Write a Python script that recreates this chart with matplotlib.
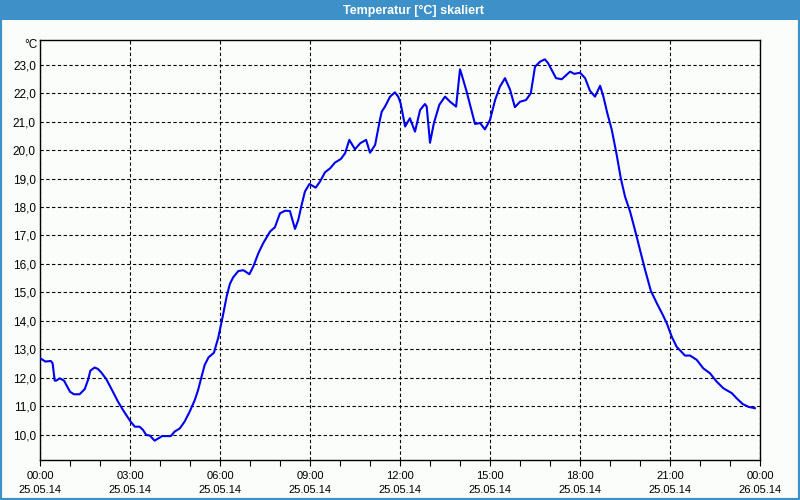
import matplotlib
matplotlib.use("Agg")
import matplotlib.pyplot as plt
from matplotlib.patches import Rectangle
from matplotlib.ticker import FixedLocator, MultipleLocator

# Messwerte (Stunden ab 25.05.14 00:00, Temperatur in °C)
stunden = [0.0, 0.18, 0.36, 0.42, 0.49, 0.54, 0.66, 0.8, 1.0, 1.13,
           1.32, 1.49, 1.6, 1.68, 1.82, 1.93, 2.04, 2.21, 2.4, 2.6,
           2.8, 3.02, 3.16, 3.32, 3.43, 3.54, 3.66, 3.82, 4.07, 4.36,
           4.49, 4.66, 4.82, 4.99, 5.16, 5.27, 5.38, 5.49, 5.62, 5.8,
           5.83, 5.94, 6.09, 6.22, 6.33, 6.44, 6.61, 6.78, 6.98, 7.11,
           7.28, 7.44, 7.67, 7.83, 8.0, 8.17, 8.33, 8.5, 8.61, 8.72,
           8.83, 8.98, 9.19, 9.33, 9.5, 9.67, 9.83, 10.03, 10.17, 10.31,
           10.5, 10.67, 10.87, 11.0, 11.17, 11.33, 11.39, 11.5, 11.67, 11.83,
           11.94, 12.02, 12.17, 12.33, 12.5, 12.67, 12.83, 12.89, 13.0, 13.13,
           13.31, 13.5, 13.67, 13.87, 14.0, 14.06, 14.22, 14.5, 14.67, 14.83,
           15.0, 15.17, 15.33, 15.5, 15.67, 15.83, 16.0, 16.2, 16.36, 16.5,
           16.67, 16.83, 16.94, 17.2, 17.39, 17.67, 17.81, 18.0, 18.17, 18.33,
           18.5, 18.67, 18.78, 18.91, 19.06, 19.22, 19.36, 19.5, 19.67, 19.83,
           20.0, 20.17, 20.36, 20.56, 20.76, 20.89, 21.06, 21.22, 21.5, 21.67,
           21.89, 22.11, 22.33, 22.56, 22.78, 23.06, 23.22, 23.42, 23.61, 23.83]

temperatur = [12.69, 12.57, 12.59, 12.51, 11.9, 11.9, 11.98, 11.9, 11.51, 11.42,
              11.42, 11.6, 11.92, 12.25, 12.36, 12.31, 12.19, 11.95, 11.57, 11.16,
              10.81, 10.46, 10.28, 10.28, 10.17, 9.99, 9.97, 9.79, 9.95, 9.95,
              10.11, 10.22, 10.46, 10.81, 11.22, 11.57, 12.02, 12.45, 12.72, 12.88,
              13.0, 13.4, 14.15, 14.85, 15.3, 15.53, 15.75, 15.78, 15.64, 15.91,
              16.38, 16.73, 17.14, 17.29, 17.78, 17.87, 17.86, 17.23, 17.55, 18.07,
              18.54, 18.81, 18.68, 18.89, 19.22, 19.36, 19.56, 19.69, 19.89, 20.36,
              20.03, 20.24, 20.36, 19.91, 20.18, 21.06, 21.35, 21.53, 21.88, 22.03,
              21.88, 21.65, 20.83, 21.12, 20.65, 21.41, 21.62, 21.53, 20.26, 20.95,
              21.59, 21.88, 21.7, 21.53, 22.84, 22.64, 22.06, 20.92, 20.95, 20.73,
              21.06, 21.76, 22.23, 22.53, 22.12, 21.51, 21.7, 21.76, 22.0, 22.93,
              23.11, 23.19, 23.05, 22.53, 22.49, 22.76, 22.68, 22.72, 22.53, 22.09,
              21.88, 22.26, 21.88, 21.3, 20.71, 19.85, 19.01, 18.37, 17.84, 17.2,
              16.49, 15.79, 15.06, 14.62, 14.21, 13.92, 13.44, 13.09, 12.78, 12.78,
              12.63, 12.33, 12.16, 11.86, 11.63, 11.46, 11.28, 11.08, 10.98, 10.93]

x_ticks = [0, 3, 6, 9, 12, 15, 18, 21, 24]
x_labels = ["00:00\n25.05.14", "03:00\n25.05.14", "06:00\n25.05.14",
            "09:00\n25.05.14", "12:00\n25.05.14", "15:00\n25.05.14",
            "18:00\n25.05.14", "21:00\n25.05.14", "00:00\n26.05.14"]
y_ticks = list(range(10, 24))

titel = "Temperatur [°C] skaliert"

blau = "#3e90c8"
hintergrund = "#fafdfa"

plt.rcParams['font.family'] = ['Liberation Sans', 'DejaVu Sans']

fig = plt.figure(figsize=(8, 5), dpi=100, facecolor=hintergrund)
ax = fig.add_axes([0.05, 0.08, 0.90, 0.84], facecolor=hintergrund)

# Titelleiste und Rahmen
fig.patches.append(Rectangle((0, 0.96), 1, 0.04, transform=fig.transFigure,
                             facecolor=blau, edgecolor="none", zorder=0))
fig.patches.append(Rectangle((0, 0), 1, 1, transform=fig.transFigure,
                             facecolor="none", edgecolor=blau, linewidth=3, zorder=0))
fig.text(0.5175, 0.979, titel, color="white", fontsize=9, fontweight="bold",
         ha="center", va="center")

ax.plot(stunden, temperatur, color="#0000ee", linewidth=1.5, zorder=3)

ax.set_xlim(0, 24)
ax.set_ylim(9.11, 23.87)

ax.xaxis.set_major_locator(FixedLocator(x_ticks))
ax.xaxis.set_minor_locator(MultipleLocator(1))
ax.set_xticklabels(x_labels, fontsize=8, linespacing=1.5)
ax.set_yticks(y_ticks)
ax.set_yticklabels([f"{v:.1f}".replace(".", ",") for v in y_ticks], fontsize=8.5)

ax.tick_params(axis="x", which="both", direction="out", length=4, width=0.8,
               pad=4, colors="black")
ax.tick_params(axis="y", length=0, pad=3)

ax.grid(True, which="major", color="black", linestyle=(0, (3, 2.2)), linewidth=0.8)

for s in ax.spines.values():
    s.set_linewidth(1.0)
    s.set_color("black")

fig.text(0.047, 0.91, "°C", fontsize=8.5, ha="right", va="center")

fig.savefig("out.png", dpi=100, facecolor=hintergrund)
